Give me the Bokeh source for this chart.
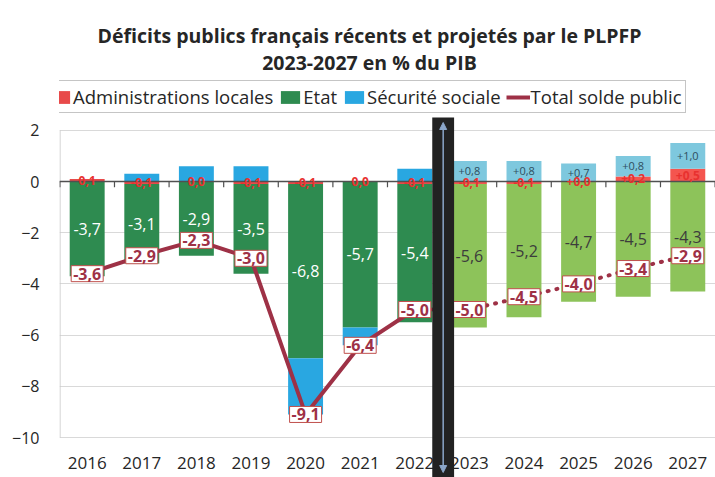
import numpy as np
from bokeh.plotting import figure
from bokeh.models import (ColumnDataSource, Legend, LegendItem, FixedTicker,
                          Arrow, NormalHead, Label)
from bokeh.core.properties import value
from bokeh.embed import file_html
from bokeh.resources import INLINE

# ---------------- data ----------------
years = ["2016", "2017", "2018", "2019", "2020", "2021", "2022",
         "2023", "2024", "2025", "2026", "2027"]
projected = [False] * 7 + [True] * 5
local = [0.1, -0.1, 0.0, -0.1, -0.1, 0.0, -0.1, -0.1, -0.1, 0.0, 0.2, 0.5]
etat = [-3.7, -3.1, -2.9, -3.5, -6.8, -5.7, -5.4, -5.6, -5.2, -4.7, -4.5, -4.3]
secu = [0.0, 0.3, 0.6, 0.6, -2.2, -0.7, 0.5, 0.8, 0.8, 0.7, 0.8, 1.0]
total = [-3.6, -2.9, -2.3, -3.0, -9.1, -6.4, -5.0, -5.0, -4.5, -4.0, -3.4, -2.9]
y_ticks = [-10, -8, -6, -4, -2, 0, 2]

title_1 = "Déficits publics français récents et projetés par le PLPFP"
title_2 = "2023-2027 en % du PIB"
series_names = ["Administrations locales", "Etat", "Sécurité sociale", "Total solde public"]

# ---------------- styles ----------------
FONT = "Open Sans"
hist_cols = {"local": "#e84a4a", "etat": "#2e8b50", "secu": "#29a7e1"}
proj_cols = {"local": "#f4554f", "etat": "#8dc35a", "secu": "#7ec8de"}
LINE_COL = "#9e3146"

def fmt(v, sign=False):
    s = f"{v:+.1f}" if sign else f"{v:.1f}"
    return s.replace(".", ",")

x = np.arange(len(years))

# stacking (Excel-like: positives up from 0, negatives down from 0)
pos = np.zeros(len(years))
neg = np.zeros(len(years))
stacks = {}
for key, vals in (("local", local), ("etat", etat), ("secu", secu)):
    v = np.array(vals, dtype=float)
    bottom = np.where(v >= 0, pos, neg + v)
    top = np.where(v >= 0, pos + v, neg)
    pos = np.where(v >= 0, pos + v, pos)
    neg = np.where(v < 0, neg + v, neg)
    stacks[key] = (bottom, top)

W, H = 715, 477
LEFT = 59
px_x = 54.6
px_y = 25.6
zero_px = 181
y_end = zero_px / px_y
y_start = -(H - zero_px) / px_y
x_start = -0.507
x_end = x_start + (W - LEFT) / px_x

p = figure(width=W, height=H, output_backend="svg", toolbar_location=None,
           x_range=(x_start, x_end), y_range=(y_start, y_end),
           min_border_left=LEFT, min_border_right=0, min_border_top=0,
           min_border_bottom=0, title=None)
p.outline_line_color = None
p.background_fill_color = "white"
p.xaxis.visible = False
p.xgrid.visible = False
p.yaxis.ticker = FixedTicker(ticks=y_ticks)
p.yaxis.axis_line_color = None
p.yaxis.major_tick_line_color = None
p.yaxis.minor_tick_line_color = None
p.yaxis.major_label_standoff = 14
p.yaxis.major_label_text_font = FONT
p.yaxis.major_label_text_font_size = "16px"
p.yaxis.major_label_text_color = "#262626"
p.ygrid.grid_line_color = "#d9d9d9"
p.ygrid.grid_line_width = 1

# left axis line
p.segment(x0=[x_start + 0.01], x1=[x_start + 0.01], y0=[min(y_ticks)], y1=[max(y_ticks)],
          line_color="#c8c8c8", line_width=1)

renderers = {}
for key in ("local", "etat", "secu"):
    b, t = stacks[key]
    cols = [proj_cols[key] if pr else hist_cols[key] for pr in projected]
    src = ColumnDataSource(dict(x=x, bottom=b, top=t, color=cols))
    renderers[key] = p.vbar(x="x", bottom="bottom", top="top", width=0.64,
                            fill_color="color", line_color=None, source=src)

# zero axis and category ticks
p.segment(x0=[x_start], x1=[x_end], y0=[0], y1=[0], line_color="#505050", line_width=1.5)
tx = np.arange(-1, len(years)) + 0.5
p.segment(x0=tx, x1=tx, y0=np.zeros(len(tx)), y1=np.full(len(tx), -0.22),
          line_color="#505050", line_width=1.2)

# total line
n_hist = sum(1 for pr in projected if not pr)
line_r = p.line(x[:n_hist], total[:n_hist], line_color=LINE_COL, line_width=4)
p.line(x[n_hist - 1:], total[n_hist - 1:], line_color=LINE_COL, line_width=4,
       line_dash="1 8", line_cap="round")

# Etat labels
eb, et = stacks["etat"]
p.text(x=x, y=(eb + et) / 2, text=[fmt(v) for v in etat],
       text_color=["#3c3c3c" if pr else "white" for pr in projected],
       text_font=value(FONT), text_font_size="16px",
       text_align="center", text_baseline="middle")

# local labels
lb, lt = stacks["local"]
p.text(x=x, y=(lb + lt) / 2,
       text=[fmt(v, sign=pr) for v, pr in zip(local, projected)],
       text_color="#e8312f", text_font=value(FONT), text_font_size="12px",
       text_font_style="bold", text_align="center", text_baseline="middle")

# secu labels (projections)
sb, st = stacks["secu"]
idx = [i for i, pr in enumerate(projected) if pr]
p.text(x=[x[i] for i in idx], y=[(sb[i] + st[i]) / 2 for i in idx],
       text=[fmt(secu[i], sign=True) for i in idx],
       text_color="#2f4f5f", text_font=value(FONT), text_font_size="11px",
       text_align="center", text_baseline="middle")

# total labels
p.text(x=x, y=total, text=[fmt(v) for v in total], text_color=LINE_COL,
       text_font=value(FONT), text_font_size="16px", text_font_style="bold",
       text_align="center", text_baseline="middle",
       background_fill_color="white", border_line_color="#c0504d",
       border_line_width=1, padding=2)

# year labels
p.text(x=x, y=[(zero_px - 462) / px_y] * len(years), text=years, text_color="#262626",
       text_font=value(FONT), text_font_size="17px",
       text_align="center", text_baseline="middle")

# separator between realised and projected years
sep_x = (n_hist - 1 + n_hist) / 2 + 0.02
p.quad(left=[sep_x - 0.2], right=[sep_x + 0.2], bottom=[y_start], top=[(zero_px - 117) / px_y],
       fill_color="#222222", line_color=None)
p.add_layout(Arrow(x_start=sep_x, y_start=(zero_px - 472) / px_y, x_end=sep_x,
                   y_end=(zero_px - 122) / px_y,
                   line_color="#8ba6c9", line_width=1.5,
                   start=NormalHead(size=7, fill_color="#8ba6c9", line_color="#8ba6c9"),
                   end=NormalHead(size=7, fill_color="#8ba6c9", line_color="#8ba6c9")))

# titles
title_x = (369 - LEFT) / px_x + x_start
p.add_layout(Label(x=title_x, y=(zero_px - 35) / px_y, text=title_1, text_font=FONT,
                   text_font_size="19.5px", text_font_style="bold", text_color="#262626",
                   text_align="center", text_baseline="middle"))
p.add_layout(Label(x=title_x, y=(zero_px - 62) / px_y, text=title_2, text_font=FONT,
                   text_font_size="19.5px", text_font_style="bold", text_color="#262626",
                   text_align="center", text_baseline="middle"))

# legend
items = [LegendItem(label=series_names[0], renderers=[renderers["local"]], index=0),
         LegendItem(label=series_names[1], renderers=[renderers["etat"]], index=0),
         LegendItem(label=series_names[2], renderers=[renderers["secu"]], index=0),
         LegendItem(label=series_names[3], renderers=[line_r])]
legend = Legend(items=items, orientation="horizontal", location=(44 - LEFT, H - 113),
                label_text_font=FONT, label_text_font_size="18.5px",
                label_text_color="#262626", glyph_width=24, glyph_height=16,
                label_standoff=1, spacing=5, padding=3, margin=0,
                border_line_color="#8c8c8c", border_line_width=1,
                background_fill_color="white", background_fill_alpha=1)
p.add_layout(legend, "center")

open("out.html", "w").write(file_html(p, INLINE))
